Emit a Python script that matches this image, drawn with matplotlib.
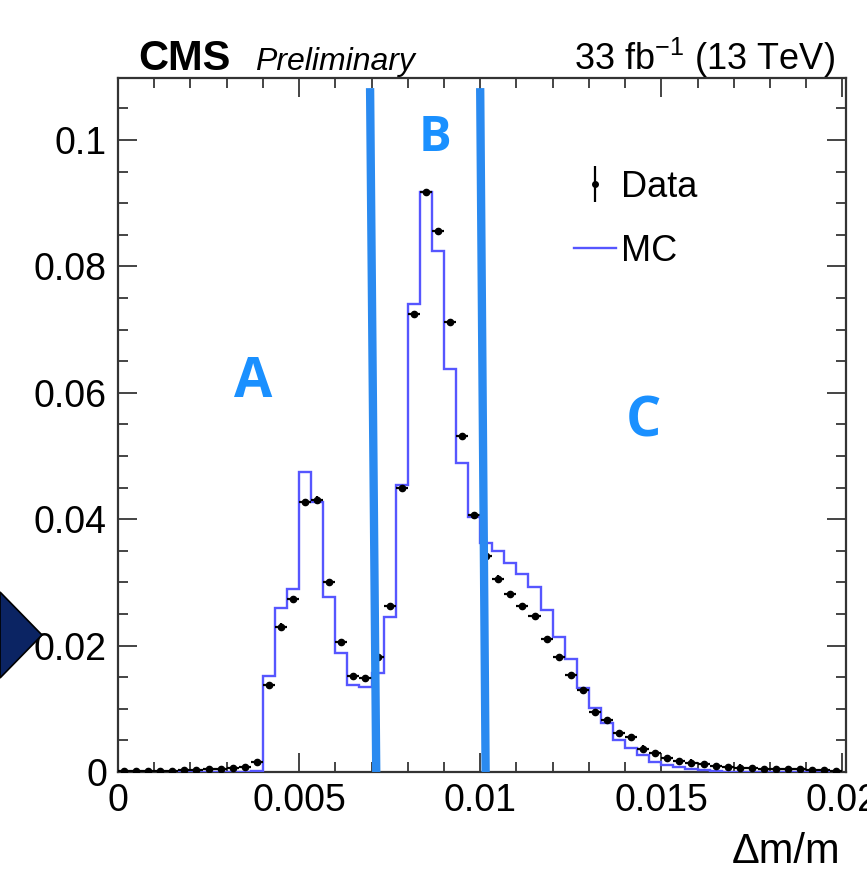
# CMS style Delta m / m plot, data vs MC with A/B/C regions

import numpy as np
import matplotlib
matplotlib.use("Agg")
import matplotlib.pyplot as plt
from matplotlib.patches import Polygon
from matplotlib.lines import Line2D
from matplotlib.legend_handler import HandlerTuple

plt.rcParams['font.family'] = ['Liberation Sans', 'DejaVu Sans']

# 60 bins between 0 and 0.02
bin_edges = np.linspace(0.0, 0.02, 61)

mc = [0, 0, 0, 0, 0, 0, 0, 0, 0, 0, 0, 0.0002,
      0.0152, 0.0260, 0.0289, 0.0475, 0.0427, 0.0277, 0.0189, 0.0137, 0.0134, 0.0156,
      0.0246, 0.0454, 0.0740, 0.0917, 0.0824, 0.0638, 0.0489, 0.0403,
      0.0362, 0.0349, 0.0330, 0.0313, 0.0293, 0.0256, 0.0213, 0.0179, 0.0133, 0.0101,
      0.0078, 0.0050, 0.0038, 0.0027, 0.0016, 0.0011, 0.0008, 0.0005, 0.0003, 0.0002,
      0, 0, 0, 0, 0, 0, 0, 0, 0, 0]

data = [0.0002, 0.0001, 0.0002, 0.0002, 0.0002, 0.0003, 0.0003, 0.0004, 0.0005, 0.0006, 0.0008, 0.0016,
        0.0137, 0.0230, 0.0273, 0.0427, 0.0431, 0.0301, 0.0205, 0.0152, 0.0148, 0.0182,
        0.0263, 0.0449, 0.0724, 0.0918, 0.0856, 0.0712, 0.0532, 0.0406,
        0.0342, 0.0306, 0.0281, 0.0262, 0.0247, 0.0210, 0.0182, 0.0153, 0.0130, 0.0095,
        0.0082, 0.0061, 0.0055, 0.0037, 0.0030, 0.0022, 0.0017, 0.0015, 0.0012, 0.0010,
        0.0008, 0.0007, 0.0006, 0.0005, 0.0005, 0.0004, 0.0004, 0.0003, 0.0003, 0.0002]
data_err = 0.0005

# hand drawn cut lines (slightly tilted), x at top and bottom
cut_lines = [(0.00696, 0.00713), (0.0100, 0.01015)]
cut_top = 0.1082

region_labels = ['A', 'B', 'C']
region_x = [0.00373, 0.00876, 0.0145]
region_y = [0.0616, 0.1003, 0.0554]
region_size = [40, 35, 40]

xticks = [0, 0.005, 0.01, 0.015, 0.02]
xtick_labels = ['0', '0.005', '0.01', '0.015', '0.02']
yticks = [0, 0.02, 0.04, 0.06, 0.08, 0.1]
ytick_labels = ['0', '0.02', '0.04', '0.06', '0.08', '0.1']

W, H = 867, 882
fig = plt.figure(figsize=(W / 100, H / 100), dpi=100)
ax = fig.add_axes([118 / W, 1 - 772 / H, 728 / W, 694 / H])

centers = 0.5 * (bin_edges[1:] + bin_edges[:-1])
half_w = 0.5 * (bin_edges[1] - bin_edges[0])

ax.stairs(mc, bin_edges, color='#5656ff', lw=1.7, zorder=3)
ax.errorbar(centers, data, xerr=half_w, yerr=data_err, fmt='o', color='black',
            ms=4.5, elinewidth=1.6, capsize=0, zorder=4)

for x_top, x_bot in cut_lines:
    ax.plot([x_top, x_bot], [cut_top, 0], color='#2a8af0', lw=6, solid_capstyle='butt', zorder=5)

for lab, x, y, s in zip(region_labels, region_x, region_y, region_size):
    ax.text(x, y, lab, color='#1a90ff', fontsize=s, fontweight='bold', family='Open Sans',
            ha='center', va='center', zorder=6)

ax.set_xlim(0, 0.0201)
ax.set_ylim(0, 0.1098)
ax.set_xticks(xticks)
ax.set_xticklabels(xtick_labels)
ax.set_yticks(yticks)
ax.set_yticklabels(ytick_labels)
ax.set_xticks(np.arange(0, 0.0201, 0.001), minor=True)
ax.set_yticks(np.arange(0, 0.11, 0.005), minor=True)
ax.tick_params(which='both', direction='in', top=True, right=True, color='#444444', width=1.4)
ax.tick_params(which='major', length=14, labelsize=27, pad=8)
ax.tick_params(which='minor', length=7)
for sp in ax.spines.values():
    sp.set_linewidth(1.6)
    sp.set_color('#333333')

# legend
data_h = (Line2D([], [], color='black', marker='|', ms=26, mew=1.6, ls='none'),
          Line2D([], [], color='black', marker='o', ms=4, ls='none'))
mc_h = Line2D([], [], color='#5656ff', lw=1.7)
ax.legend([data_h, mc_h], ['Data', 'MC'], handler_map={tuple: HandlerTuple(ndivide=1)},
          loc='upper left', bbox_to_anchor=(556 / W, 1 - 152 / H), bbox_transform=fig.transFigure,
          frameon=False, borderpad=0, handlelength=1.16, handletextpad=0.14,
          labelspacing=0.8, fontsize=26)

# header texts
fig.text(138 / W, 1 - 70 / H, 'CMS', fontsize=30, fontweight='bold', ha='left', va='baseline')
fig.text(255 / W, 1 - 70 / H, 'Preliminary', fontsize=23, style='italic', ha='left', va='baseline')
fig.text(835 / W, 1 - 70 / H, r'33 fb$^{\mathregular{-1}}$ (13 TeV)', fontsize=26,
         ha='right', va='baseline')
fig.text(840 / W, 1 - 852 / H, 'Δm/m', fontsize=30, ha='right', va='center')

# navy pointer on the left edge
arrow = Polygon([(0, 1 - 592 / H), (42 / W, 1 - 635 / H), (0, 1 - 678 / H)], closed=True,
                facecolor='#0b2463', edgecolor='black', lw=1.2, transform=fig.transFigure)
fig.patches.append(arrow)

fig.savefig('out.png', dpi=100)
